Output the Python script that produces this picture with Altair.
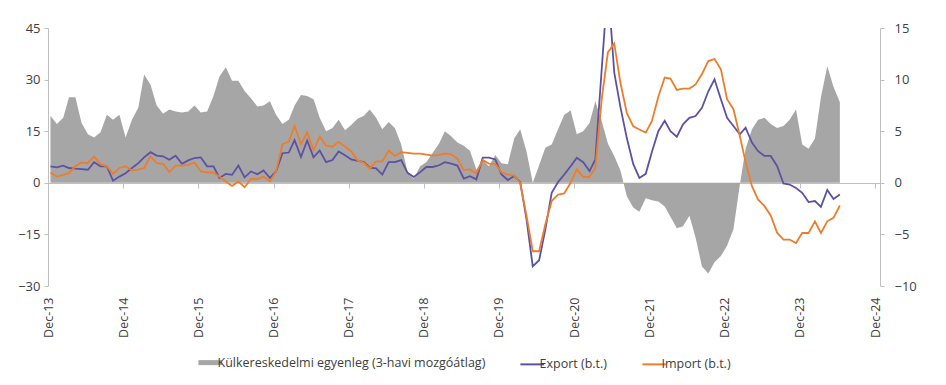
import altair as alt
import pandas as pd

# ---- data (monthly, Dec-13 .. Jun-24) ----
SERIES_NAMES = ["Külkereskedelmi egyenleg (3-havi mozgóátlag)", "Export (b.t.)", "Import (b.t.)"]
SERIES_COLORS = ["#A6A6A6", "#5B52A3", "#EE7D2B"]

start_month = "2013-12-01"
n_months = 127
tick_years = list(range(2013, 2025))
left_ticks = [-30, -15, 0, 15, 30, 45]
right_ticks = [-10, -5, 0, 5, 10, 15]

export_vals = [
    4.8, 4.5, 5.0, 4.3, 4.1, 4.0, 3.8, 6.0, 4.8, 4.8,
    0.6, 1.8, 2.8, 4.3, 5.7, 7.4, 8.9, 7.9, 7.7, 6.7,
    7.9, 5.5, 6.5, 7.2, 7.4, 4.8, 4.8, 1.4, 2.6, 2.3,
    5.0, 1.6, 3.3, 2.5, 3.6, 1.4, 3.3, 8.6, 8.8, 12.4,
    7.5, 12.3, 7.4, 9.4, 6.0, 6.6, 9.1, 8.0, 6.8, 6.4,
    6.0, 4.4, 4.2, 2.4, 6.0, 6.0, 6.6, 2.9, 1.7, 3.1,
    4.6, 4.6, 5.1, 6.0, 5.6, 5.0, 1.2, 1.9, 1.0, 7.3,
    7.3, 6.8, 2.4, 0.8, 2.0, 0.2, -10.7, -24.3, -22.5, -13.6,
    -2.9, 0.2, 2.4, 4.8, 7.3, 6.0, 3.4, 6.8, 33.0, 58.0,
    32.0, 22.0, 13.0, 5.5, 1.4, 2.6, 9.0, 15.0, 18.0, 15.0,
    13.4, 17.0, 18.9, 19.4, 21.8, 26.6, 30.1, 24.3, 18.9, 16.5,
    14.1, 16.0, 11.7, 9.2, 7.8, 7.8, 4.9, -0.2, -0.5, -1.5,
    -2.9, -5.6, -5.3, -7.0, -2.1, -4.7, -3.4,
]

import_vals = [
    3.0, 1.8, 2.3, 2.8, 4.8, 5.9, 5.7, 7.7, 5.4, 4.8,
    2.6, 4.3, 4.8, 3.6, 3.8, 4.3, 7.7, 5.7, 5.5, 3.1,
    5.0, 5.0, 5.2, 5.9, 3.3, 3.0, 3.0, 1.8, 0.4, -0.9,
    0.4, -1.3, 1.1, 1.1, 1.8, 0.4, 3.3, 11.2, 12.0, 16.5,
    11.2, 14.7, 9.5, 13.4, 10.8, 10.5, 11.9, 10.5, 9.2, 6.5,
    5.8, 4.1, 6.2, 6.2, 9.4, 7.8, 8.9, 8.7, 8.5, 8.5,
    8.2, 7.9, 8.1, 8.5, 8.3, 7.0, 3.7, 3.9, 2.7, 6.6,
    5.6, 5.5, 3.1, 2.4, 2.1, 0.0, -9.7, -19.9, -19.9, -12.1,
    -5.3, -3.4, -3.1, 0.0, 3.9, 1.7, 1.7, 4.4, 24.3, 37.9,
    40.5, 29.0, 20.3, 16.4, 15.5, 14.6, 18.0, 25.0, 30.6, 30.3,
    27.0, 27.4, 27.4, 28.6, 31.6, 35.4, 36.0, 33.0, 24.3, 21.4,
    13.6, 6.0, -1.0, -4.9, -6.8, -9.5, -14.5, -16.5, -16.5, -17.5,
    -14.6, -14.6, -11.2, -14.6, -11.2, -10.2, -6.6,
]

# trade balance, 3-month moving average (right axis units)
balance_vals = [
    6.5, 5.7, 6.3, 8.3, 8.3, 5.8, 4.7, 4.4, 4.9, 6.6,
    6.1, 6.6, 4.4, 6.1, 7.3, 10.5, 9.5, 7.5, 6.7, 7.1,
    6.9, 6.8, 6.9, 7.5, 6.8, 6.9, 8.4, 10.3, 11.2, 9.9,
    9.9, 8.9, 8.2, 7.4, 7.5, 7.9, 6.6, 5.7, 6.1, 7.5,
    8.5, 8.4, 8.1, 6.3, 5.0, 5.3, 6.1, 5.1, 5.6, 6.2,
    6.5, 7.1, 6.3, 5.2, 5.9, 5.3, 3.7, 1.0, 0.4, 1.6,
    2.0, 2.9, 3.8, 5.0, 4.5, 3.9, 3.6, 3.1, 1.3, 2.2,
    1.6, 2.7, 1.9, 1.8, 4.3, 5.2, 3.0, 0.0, 1.7, 3.4,
    3.7, 5.2, 6.6, 7.0, 4.7, 5.0, 5.8, 7.9, 6.0, 3.8,
    2.6, 1.2, -1.3, -2.4, -2.8, -1.5, -1.7, -1.8, -2.3, -3.3,
    -4.4, -4.2, -3.2, -5.3, -8.1, -8.8, -7.7, -7.1, -6.1, -4.5,
    -0.2, 3.3, 5.2, 6.1, 6.3, 5.7, 5.3, 5.5, 6.1, 7.1,
    3.7, 3.3, 4.3, 8.3, 11.3, 9.3, 7.8,
]

# ---- tables ----
months = pd.date_range(start_month, periods=n_months, freq="MS") + pd.Timedelta(days=12)
date_str = list(months.strftime("%Y-%m-%dT00:00:00"))

area_df = pd.DataFrame({"date": date_str, "balance": balance_vals})
line_df = pd.concat([
    pd.DataFrame({"date": date_str, "series": SERIES_NAMES[1], "value": export_vals}),
    pd.DataFrame({"date": date_str, "series": SERIES_NAMES[2], "value": import_vals}),
])

FONT = "Open Sans"
TXT = "#404040"
AXC = "#BFBFBF"

x_scale = alt.Scale(domain=[alt.DateTime(year=2013, month=12, date=1),
                            alt.DateTime(year=2024, month=12, date=25)])
x_ticks = [alt.DateTime(year=y, month=12, date=1) for y in tick_years]

area = alt.Chart(area_df).mark_area(color=SERIES_COLORS[0], opacity=1).encode(
    x=alt.X("date:T", scale=x_scale,
            axis=alt.Axis(orient="bottom", offset=-103, labels=False, domain=True,
                          domainColor=AXC, ticks=True, tickColor=AXC, tickSize=5,
                          values=x_ticks, grid=False, title=None)),
    y=alt.Y("balance:Q", scale=alt.Scale(domain=[-10, 15], nice=False),
            axis=alt.Axis(orient="right", values=right_ticks, grid=False, title=None,
                          domainColor=AXC, tickColor=AXC, tickSize=4, labelPadding=10,
                          labelFont=FONT, labelFontSize=13, labelColor=TXT)),
)

lines = alt.Chart(line_df).mark_line(strokeWidth=1.8, clip=True).encode(
    x=alt.X("date:T", scale=x_scale,
            axis=alt.Axis(orient="bottom", values=x_ticks, format="%b-%y", labelAngle=-90,
                          domain=False, ticks=False, labelPadding=11, grid=False, title=None,
                          labelFont=FONT, labelFontSize=12.5, labelColor=TXT)),
    y=alt.Y("value:Q", scale=alt.Scale(domain=[-30, 45], nice=False),
            axis=alt.Axis(orient="left", values=left_ticks, grid=False, title=None,
                          domainColor=AXC, tickColor=AXC, tickSize=4, labelPadding=4,
                          labelFont=FONT, labelFontSize=13, labelColor=TXT)),
    color=alt.Color("series:N",
                    scale=alt.Scale(domain=SERIES_NAMES, range=SERIES_COLORS),
                    legend=alt.Legend(
                        title=None, orient="none", legendX=156, legendY=328,
                        direction="horizontal", symbolType="stroke", symbolSize=560,
                        symbolStrokeWidth={"expr": "datum.value === '" + SERIES_NAMES[0] + "' ? 5 : 2"},
                        labelFont=FONT, labelFontSize=12.5,
                        labelColor=TXT, labelLimit=400, labelOffset=1, columnPadding=30,
                    )),
)

chart = (
    alt.layer(area, lines)
    .resolve_scale(y="independent")
    .resolve_axis(x="independent", y="independent")
    .properties(width=832, height=258,
                padding={"left": 40, "top": 20, "right": 58, "bottom": 86},
                autosize=alt.AutoSizeParams(type="none"))
    .configure_view(strokeWidth=0)
)

chart.save("out.html", embed_options={"renderer": "svg", "actions": False})
